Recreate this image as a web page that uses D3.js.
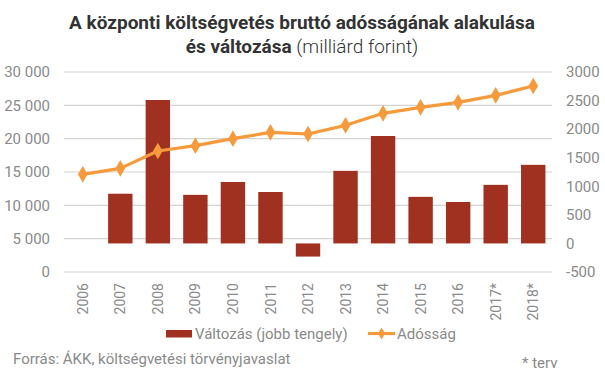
<!DOCTYPE html>
<html><head><meta charset="utf-8">
<script src="https://cdn.jsdelivr.net/npm/d3@7"></script>
<style>body{margin:0;background:#fff}svg{display:block}text{font-family:Roboto,"Noto Sans",sans-serif}</style>
</head><body>
<script>
const categories = ["2006","2007","2008","2009","2010","2011","2012","2013","2014","2015","2016","2017*","2018*"];
const changeValues = [null, 870, 2510, 850, 1075, 900, -230, 1270, 1880, 815, 725, 1025, 1375];
const debtValues = [14650, 15550, 18150, 18950, 20000, 20950, 20700, 22000, 23800, 24700, 25450, 26500, 27900];
const leftTicks = [0, 5000, 10000, 15000, 20000, 25000, 30000];
const rightTicks = [-500, 0, 500, 1000, 1500, 2000, 2500, 3000];

const W = 605, H = 378;
const svg = d3.select("body").append("svg").attr("width", W).attr("height", H);
const x0 = 64, x1 = 552, yTop = 72, yBot = 272;

const x = d3.scaleBand().domain(categories).range([x0, x1]).paddingInner(0.35).paddingOuter(0.175);
const xc = d3.scaleBand().domain(categories).range([x0, x1]);
const yL = d3.scaleLinear().domain([0, 30000]).range([yBot, yTop]);
const yR = d3.scaleLinear().domain([-500, 3000]).range([yBot, yTop]);

// gridlines
svg.append("g").selectAll("line").data(leftTicks).join("line")
  .attr("x1", x0).attr("x2", x1).attr("y1", d => yL(d)).attr("y2", d => yL(d))
  .attr("stroke", "#d4d4d4").attr("stroke-width", 1.2);

// left axis
const gL = svg.append("g").attr("transform", `translate(50,0)`)
  .call(d3.axisLeft(yL).tickValues(leftTicks).tickSize(0).tickPadding(0).tickFormat(d => d3.format(",")(d).replace(/,/g, " ")));
gL.select(".domain").remove();
gL.selectAll("text").attr("fill", "#8a8a8a").style("font-size", "15px").style("font-family", "Roboto");
// right axis
const gR = svg.append("g").attr("transform", `translate(566,0)`)
  .call(d3.axisRight(yR).tickValues(rightTicks).tickSize(0).tickPadding(0).tickFormat(d => String(d)));
gR.select(".domain").remove();
gR.selectAll("text").attr("fill", "#8a8a8a").style("font-size", "15px").style("font-family", "Roboto");

// bars
svg.append("g").selectAll("rect").data(categories.map((c, i) => ({c, v: changeValues[i]})).filter(d => d.v !== null))
  .join("rect")
  .attr("x", d => x(d.c)).attr("width", x.bandwidth())
  .attr("y", d => yR(Math.max(0, d.v))).attr("height", d => Math.abs(yR(d.v) - yR(0)))
  .attr("fill", "#a03020");

// line
const pts = categories.map((c, i) => [xc(c) + xc.bandwidth() / 2, yL(debtValues[i])]);
svg.append("path").datum(pts).attr("d", d3.line()).attr("fill", "none")
  .attr("stroke", "#f79a3c").attr("stroke-width", 3.2).attr("stroke-linejoin", "round");
svg.append("g").selectAll("path").data(pts).join("path")
  .attr("transform", d => `translate(${d[0]},${d[1]})`)
  .attr("d", d3.symbol().type(d3.symbolDiamond).size(80)).attr("fill", "#f79a3c");

// x axis labels
const gX = svg.append("g").attr("transform", `translate(0,283)`)
  .call(d3.axisBottom(xc).tickSize(0).tickPadding(0));
gX.select(".domain").remove();
gX.selectAll("text").attr("fill", "#8a8a8a").style("font-size", "14px").style("font-family", "Roboto")
  .attr("transform", "rotate(-90)").attr("text-anchor", "end").attr("x", 0).attr("y", 0).attr("dy", "0.36em");

// title
const t = svg.append("text").attr("text-anchor", "middle").attr("fill", "#333").style("font-size", "19px");
t.append("tspan").attr("x", 302).attr("y", 29).attr("font-weight", "bold").text("A központi költségvetés bruttó adósságának alakulása");
const t2 = svg.append("text").attr("text-anchor", "middle").attr("fill", "#333").style("font-size", "19px").attr("x", 302).attr("y", 53);
t2.append("tspan").attr("font-weight", "bold").text("és változása");
t2.append("tspan").attr("font-weight", "300").text(" (milliárd forint)");

// legend
svg.append("rect").attr("x", 166).attr("y", 330).attr("width", 26).attr("height", 7.5).attr("fill", "#a03020");
svg.append("text").attr("x", 195).attr("y", 338.5).attr("fill", "#8a8a8a").style("font-size", "15px").text("Változás (jobb tengely)");
svg.append("line").attr("x1", 368).attr("x2", 395).attr("y1", 333.5).attr("y2", 333.5).attr("stroke", "#f79a3c").attr("stroke-width", 3.2);
svg.append("path").attr("transform", "translate(381.5,333.5)").attr("d", d3.symbol().type(d3.symbolDiamond).size(40)).attr("fill", "#f79a3c");
svg.append("text").attr("x", 397).attr("y", 338.5).attr("fill", "#8a8a8a").style("font-size", "15px").text("Adósság");

// footer
svg.append("text").attr("x", 13).attr("y", 364).attr("fill", "#8a8a8a").style("font-size", "15px").text("Forrás: ÁKK, költségvetési törvényjavaslat");
svg.append("text").attr("x", 522).attr("y", 368).attr("fill", "#8a8a8a").style("font-size", "15px").text("* terv");
</script>
</body></html>
